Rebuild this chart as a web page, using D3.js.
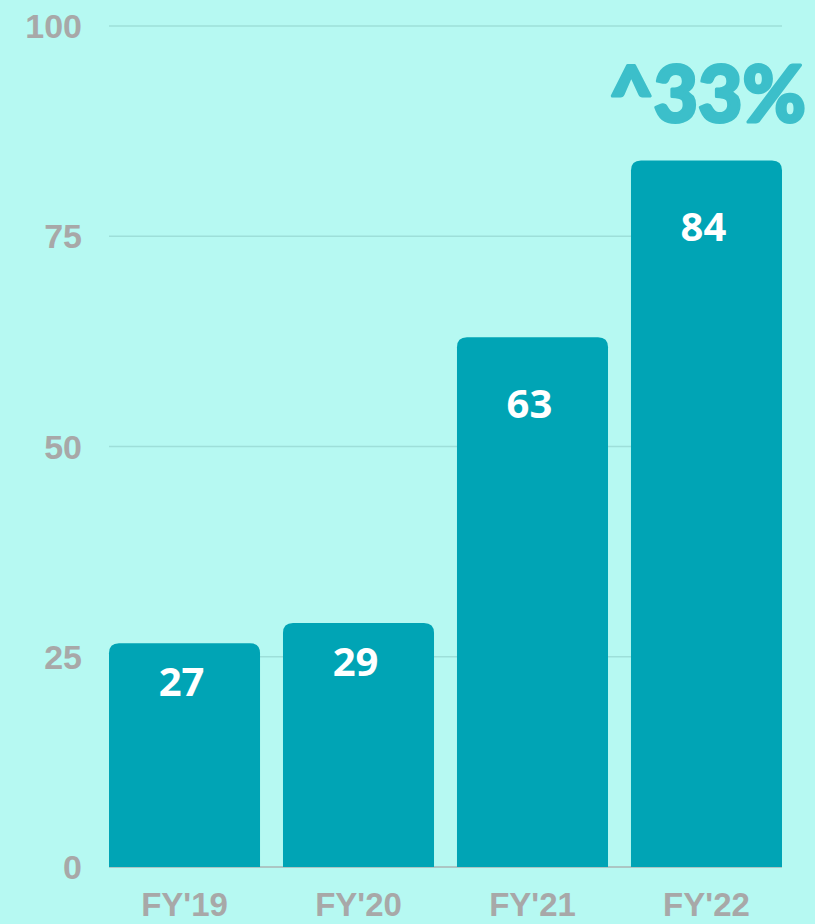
<!DOCTYPE html>
<html>
<head>
<meta charset="utf-8">
<script src="https://cdn.jsdelivr.net/npm/d3@7"></script>
<style>
  html, body { margin: 0; padding: 0; background: #b6f9f2; }
  svg { display: block; }
</style>
</head>
<body>
<svg id="chart"></svg>
<script>
const width = 815;
const height = 924;
const margin = { top: 26, right: 33, bottom: 57, left: 109 };

const years = ["FY'19", "FY'20", "FY'21", "FY'22"];
const values = [26.6, 29, 63, 84];
const yTicks = [0, 25, 50, 75, 100];
const growthLabel = "^33%";

const svg = d3.select("#chart")
    .attr("width", width)
    .attr("height", height);

const x = d3.scaleBand()
    .domain(years)
    .range([margin.left, width - margin.right])
    .paddingInner(0.132)
    .paddingOuter(0);

const y = d3.scaleLinear()
    .domain([0, 100])
    .range([height - margin.bottom, margin.top]);

// grid lines
svg.append("g")
    .selectAll("line")
    .data(yTicks.filter(d => d > 0))
    .enter()
    .append("line")
    .attr("x1", margin.left)
    .attr("x2", width - margin.right)
    .attr("y1", d => y(d))
    .attr("y2", d => y(d))
    .attr("stroke", "#9edfd9")
    .attr("stroke-width", 1.5);

// baseline
svg.append("line")
    .attr("x1", margin.left)
    .attr("x2", width - margin.right)
    .attr("y1", y(0))
    .attr("y2", y(0))
    .attr("stroke", "#a9b5b4")
    .attr("stroke-width", 1.5);

// y labels
svg.append("g")
    .selectAll("text")
    .data(yTicks)
    .enter()
    .append("text")
    .attr("x", 82)
    .attr("y", d => y(d))
    .attr("dy", "0.36em")
    .attr("text-anchor", "end")
    .attr("font-family", "Liberation Sans, Arial, sans-serif")
    .attr("font-weight", "bold")
    .attr("font-size", 34)
    .attr("fill", "#a8a8a8")
    .text(d => d);

// bars with rounded tops
const r = 10;
function barPath(v, cat) {
    const x0 = x(cat), x1 = x0 + x.bandwidth();
    const y0 = y(0), y1 = y(v);
    return `M${x0},${y0} V${y1 + r} Q${x0},${y1} ${x0 + r},${y1} H${x1 - r} Q${x1},${y1} ${x1},${y1 + r} V${y0} Z`;
}

svg.append("g")
    .selectAll("path")
    .data(values)
    .enter()
    .append("path")
    .attr("d", (d, i) => barPath(d, years[i]))
    .attr("fill", "#00a4b5");

// value labels
svg.append("g")
    .selectAll("text")
    .data(values)
    .enter()
    .append("text")
    .attr("x", (d, i) => x(years[i]) + x.bandwidth() / 2 - 3)
    .attr("y", d => {
        const h = y(0) - y(d);
        return y(d) + (h < 300 ? 38 : 66);
    })
    .attr("dy", "0.36em")
    .attr("text-anchor", "middle")
    .attr("font-family", "Open Sans, sans-serif")
    .attr("font-weight", "bold")
    .attr("font-size", 40)
    .attr("fill", "#ffffff")
    .text(d => d3.format(".0f")(d));

// x labels
svg.append("g")
    .selectAll("text")
    .data(years)
    .enter()
    .append("text")
    .attr("x", d => x(d) + x.bandwidth() / 2)
    .attr("y", 904)
    .attr("dy", "0.36em")
    .attr("text-anchor", "middle")
    .attr("font-family", "Liberation Sans, Arial, sans-serif")
    .attr("font-weight", "bold")
    .attr("font-size", 33)
    .attr("fill", "#a8a8a8")
    .text(d => d);

// growth callout
svg.append("text")
    .attr("x", 609)
    .attr("y", 122)
    .attr("textLength", 197)
    .attr("lengthAdjust", "spacingAndGlyphs")
    .attr("font-family", "Lato, sans-serif")
    .attr("font-weight", 900)
    .attr("font-size", 78)
    .attr("fill", "#3cbfca")
    .attr("stroke", "#3cbfca")
    .attr("stroke-width", 3)
    .attr("stroke-linejoin", "round")
    .text(growthLabel);
</script>
</body>
</html>
